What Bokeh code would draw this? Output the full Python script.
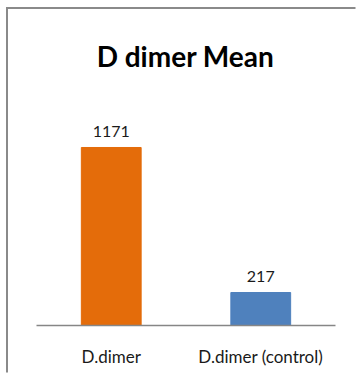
from bokeh.plotting import figure
from bokeh.models import ColumnDataSource, Range1d, Label
from bokeh.core.properties import value
from bokeh.embed import file_html
from bokeh.resources import INLINE

# Chart data
categories = ["D.dimer", "D.dimer (control)"]
means = [1171, 217]
bar_colors = ["#E46C0A", "#4F81BD"]
title_text = "D dimer Mean"

# one slot per category, bars centred in their slot
slots = [i + 0.5 for i in range(len(categories))]
value_labels = [str(v) for v in means]

source = ColumnDataSource(dict(x=slots, cat=categories, mean=means,
                               color=bar_colors, label=value_labels,
                               zero=[0] * len(categories)))

W, H = 356, 373
X0, X1 = -0.2408, 2.1405
Y0, Y1 = -315.8, 2138.0


def px_x(px):
    """canvas pixel column -> x data coordinate"""
    return X0 + px * (X1 - X0) / W


def px_y(px):
    """canvas pixel row (from top) -> y data coordinate"""
    return Y1 - px * (Y1 - Y0) / H


# plot area spans the whole canvas; ranges place the baseline and slots
p = figure(
    x_range=Range1d(X0, X1),
    y_range=Range1d(Y0, Y1),
    width=W, height=H,
    output_backend="svg", toolbar_location=None,
    min_border=0,
)
p.title.visible = False
p.axis.visible = False
p.grid.visible = False
p.outline_line_color = None
p.background_fill_color = "white"
p.border_fill_color = "white"

# chart-area border (top and left edges)
p.segment(x0=[px_x(5.5), px_x(6.5)], y0=[px_y(7.5), px_y(6.5)],
          x1=[px_x(W - 1), px_x(6.5)], y1=[px_y(7.5), px_y(H - 1)],
          line_color="#8a8a8a", line_width=2)

p.vbar(x="x", top="mean", width=0.4, color="color", source=source)

# category axis line
p.segment(x0=[0], y0=[0], x1=[len(categories)], y1=[0],
          line_color="#868686", line_width=1.5)

# value labels above bars
p.text(x="x", y="mean", text="label", source=source,
       text_align="center", text_baseline="alphabetic", y_offset=-16,
       text_font=value("Lato"), text_font_size="16px", text_color="#1a1a1a")

# category labels below the axis
p.text(x="x", y="zero", text="cat", source=source,
       text_align="center", text_baseline="alphabetic", y_offset=31,
       text_font=value("Lato"), text_font_size="17px", text_color="#1a1a1a")

p.add_layout(Label(x=185, y=55, x_units="canvas", y_units="canvas",
                   text=title_text, text_align="center", text_baseline="alphabetic",
                   text_font="Lato", text_font_style="bold", text_font_size="28px",
                   text_color="black"))

open("out.html", "w").write(file_html(p, INLINE))
